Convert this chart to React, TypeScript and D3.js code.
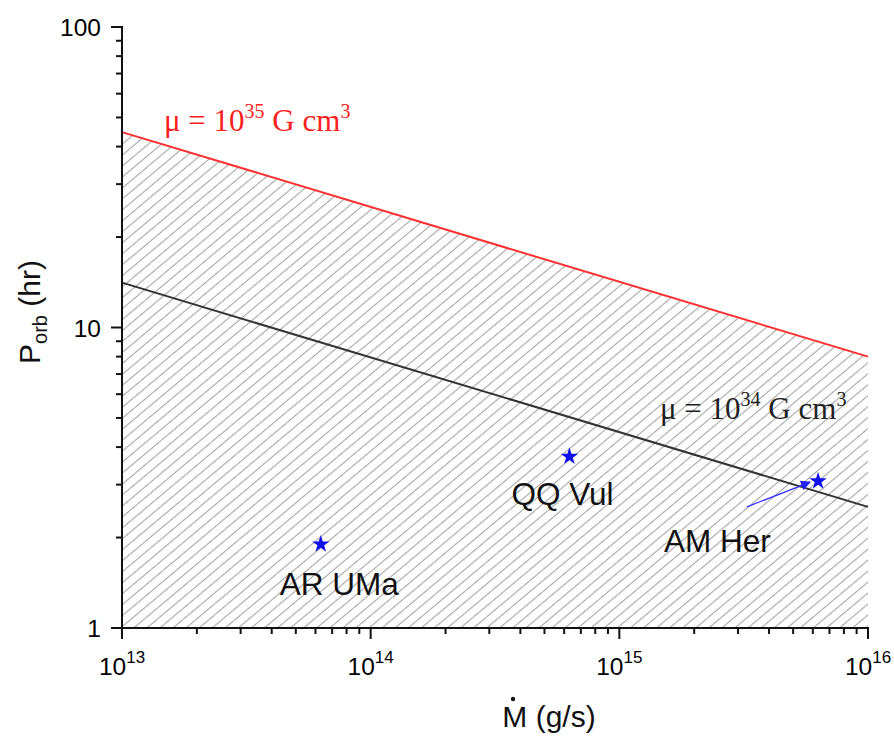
import React, { useEffect, useRef } from 'react';
import * as d3 from 'd3';

// line endpoints (Mdot in g/s, Porb in hr)
const mdotEnds = [1e13, 1e16];
const porbMu35 = [44.7, 8.0];
const porbMu34 = [14.1, 2.53];

// sources
const sourceNames = ['AR UMa', 'QQ Vul', 'AM Her'];
const sourceMdot = [6.3e13, 6.3e14, 6.3e15];
const sourcePorb = [1.9, 3.72, 3.08];

// arrow pointing at AM Her
const arrowMdot = [3.26e15, 5.85e15];
const arrowPorb = [2.53, 3.06];

const xTickExps = [13, 14, 15, 16];
const yTickVals = [1, 10, 100];

const W = 894;
const H = 747;
const margin = { left: 122, right: 26, top: 27, bottom: 119 };

function App() {
  const ref = useRef<SVGSVGElement>(null);

  useEffect(() => {
    document.body.style.margin = '0';
    const svg = d3.select(ref.current);
    svg.selectAll('*').remove();

    const x = d3.scaleLog().domain([1e13, 1e16]).range([margin.left, W - margin.right]);
    const y = d3.scaleLog().domain([1, 100]).range([H - margin.bottom, margin.top]);
    const x0 = x.range()[0], x1 = x.range()[1];
    const y0 = y.range()[0];

    const defs = svg.append('defs');
    defs.append('pattern')
      .attr('id', 'hatch')
      .attr('patternUnits', 'userSpaceOnUse')
      .attr('width', 20)
      .attr('height', 8.4)
      .attr('patternTransform', 'rotate(-40)')
      .append('line')
      .attr('x1', 0).attr('y1', 4.2).attr('x2', 20).attr('y2', 4.2)
      .attr('stroke', '#a4a4a4').attr('stroke-width', 1.1);

    defs.append('marker')
      .attr('id', 'arrowhead')
      .attr('viewBox', '0 0 10 10')
      .attr('refX', 9).attr('refY', 5)
      .attr('markerWidth', 14).attr('markerHeight', 10)
      .attr('markerUnits', 'userSpaceOnUse')
      .attr('orient', 'auto')
      .append('path').attr('d', 'M0,0 L10,5 L0,10 Z').attr('fill', '#2020ff');

    // hatched region under the upper line
    const area = d3.area<number>()
      .x((d) => x(d))
      .y0(y0)
      .y1((d, i) => y(porbMu35[i]));
    svg.append('path').datum(mdotEnds).attr('d', area).attr('fill', 'url(#hatch)');

    const line = d3.line<number>().x((d) => x(d));
    svg.append('path')
      .attr('d', line.y((d, i) => y(porbMu35[i]))(mdotEnds))
      .attr('fill', 'none').attr('stroke', '#ff3030').attr('stroke-width', 2);
    svg.append('path')
      .attr('d', line.y((d, i) => y(porbMu34[i]))(mdotEnds))
      .attr('fill', 'none').attr('stroke', '#333').attr('stroke-width', 2);

    // axes
    const ax = svg.append('g').attr('stroke', '#111').attr('stroke-width', 2);
    ax.append('line').attr('x1', x0 - 1).attr('x2', x1 + 1).attr('y1', y0).attr('y2', y0);
    ax.append('line').attr('x1', x0).attr('x2', x0).attr('y1', y0 + 1).attr('y2', margin.top - 1);

    for (let e = 13; e < 16; e++) {
      for (let m = 2; m <= 9; m++) {
        const px = x(m * Math.pow(10, e));
        ax.append('line').attr('x1', px).attr('x2', px).attr('y1', y0).attr('y2', y0 + 6);
      }
    }
    xTickExps.forEach((e) => {
      const px = x(Math.pow(10, e));
      ax.append('line').attr('x1', px).attr('x2', px).attr('y1', y0).attr('y2', y0 + 11);
    });
    for (let e = 0; e < 2; e++) {
      for (let m = 2; m <= 9; m++) {
        const py = y(m * Math.pow(10, e));
        ax.append('line').attr('x1', x0).attr('x2', x0 - 6).attr('y1', py).attr('y2', py);
      }
    }
    yTickVals.forEach((v) => {
      ax.append('line').attr('x1', x0).attr('x2', x0 - 11).attr('y1', y(v)).attr('y2', y(v));
    });

    const sans = "'Liberation Sans', Arial, sans-serif";
    const serif = "'Liberation Serif', 'Times New Roman', serif";

    yTickVals.forEach((v) => {
      svg.append('text')
        .attr('x', x0 - 21).attr('y', y(v) + 9)
        .attr('text-anchor', 'end')
        .attr('font-family', sans).attr('font-size', 24.5)
        .text(String(v));
    });
    xTickExps.forEach((e) => {
      const t = svg.append('text')
        .attr('x', x(Math.pow(10, e))).attr('y', y0 + 47)
        .attr('text-anchor', 'middle')
        .attr('font-family', sans).attr('font-size', 24.5);
      t.append('tspan').text('10');
      t.append('tspan').attr('dy', -12).attr('font-size', 17).text(String(e));
    });

    // axis titles
    svg.append('text')
      .attr('x', 549).attr('y', H - 20)
      .attr('text-anchor', 'middle')
      .attr('font-family', sans).attr('font-size', 30).attr('fill', '#111')
      .text('M (g/s)');
    svg.append('circle').attr('cx', 513).attr('cy', H - 48).attr('r', 2.2).attr('fill', '#111');

    const yt = svg.append('text')
      .attr('transform', `translate(40,${312}) rotate(-90)`)
      .attr('text-anchor', 'middle')
      .attr('font-family', sans).attr('font-size', 30).attr('fill', '#111');
    yt.append('tspan').text('P');
    yt.append('tspan').attr('dy', 7).attr('font-size', 20).text('orb');
    yt.append('tspan').attr('dy', -7).text(' (hr)');

    // line labels
    const muLabel = (px: number, py: number, exp: string, color: string) => {
      const t = svg.append('text')
        .attr('x', px).attr('y', py)
        .attr('font-family', serif).attr('font-size', 31).attr('fill', color);
      t.append('tspan').text('\u03bc = 10');
      t.append('tspan').attr('dy', -13).attr('font-size', 20).text(exp);
      t.append('tspan').attr('dy', 13).text(' G cm');
      t.append('tspan').attr('dy', -13).attr('font-size', 20).text('3');
    };
    muLabel(164, 131, '35', '#ff2020');
    muLabel(660, 419, '34', '#222');

    // arrow
    svg.append('line')
      .attr('x1', x(arrowMdot[0])).attr('y1', y(arrowPorb[0]))
      .attr('x2', x(arrowMdot[1])).attr('y2', y(arrowPorb[1]))
      .attr('stroke', '#3030ff').attr('stroke-width', 1.3)
      .attr('marker-end', 'url(#arrowhead)');

    // sources
    const star = d3.symbol().type(d3.symbolStar).size(95);
    const labelOff = [[-41, 51], [-58, 48], [-154, 71]];
    sourceNames.forEach((name, i) => {
      const px = x(sourceMdot[i]);
      const py = y(sourcePorb[i]);
      svg.append('path')
        .attr('d', star()!)
        .attr('transform', `translate(${px},${py})`)
        .attr('fill', '#1010ee');
      svg.append('text')
        .attr('x', px + labelOff[i][0]).attr('y', py + labelOff[i][1])
        .attr('font-family', sans).attr('font-size', 31.5).attr('fill', '#111')
        .text(name);
    });
  }, []);

  return <svg ref={ref} width={W} height={H} style={{ display: 'block', background: '#fff' }} />;
}

export default App;
